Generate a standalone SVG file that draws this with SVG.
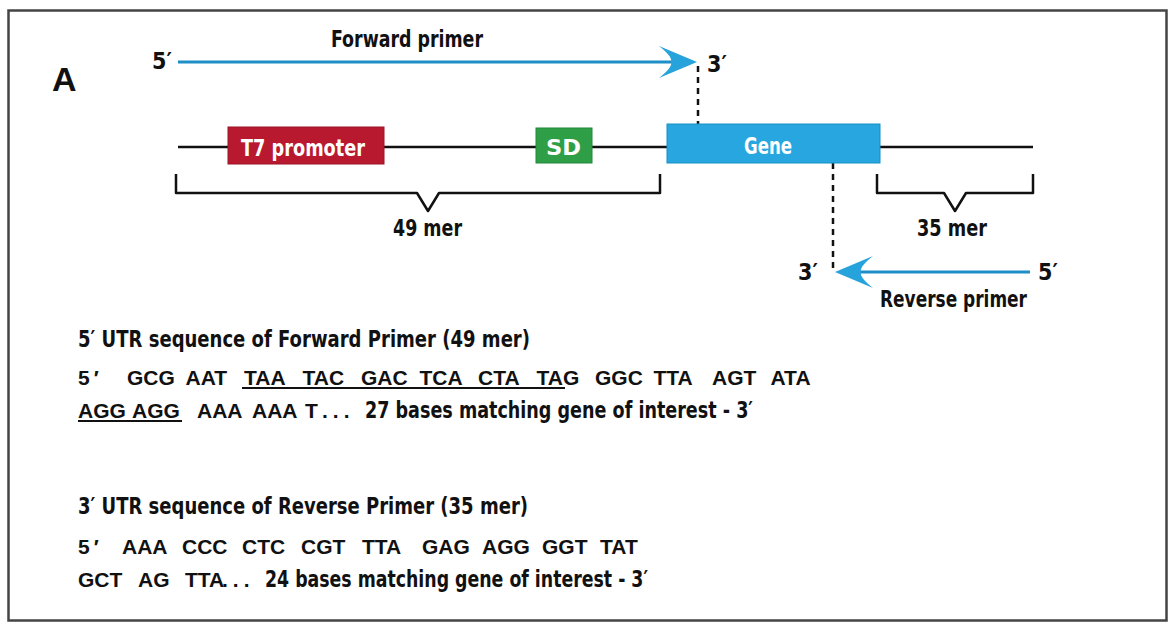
<svg xmlns="http://www.w3.org/2000/svg" width="1174" height="622" viewBox="0 0 1174 622">
  <style>
    .lbl { font-family: "Liberation Sans Narrow", "Arial Narrow", "DejaVu Sans Condensed", "Liberation Sans", sans-serif; font-weight: bold; fill: #111; }
    .box-lbl { fill: #ffffff; }
    .seq { font-family: "Liberation Sans", Arial, sans-serif; font-weight: bold; font-size: 21px; fill: #111; }
    .backbone { stroke: #111; stroke-width: 2.5; fill: none; }
    .bracket { stroke: #111; stroke-width: 2.5; fill: none; stroke-linejoin: round; }
    .dash { stroke: #111; stroke-width: 2.5; stroke-dasharray: 6 5; fill: none; }
    .primer { stroke: #1d8ec6; stroke-width: 3; fill: none; }
    .uline { stroke: #111; stroke-width: 2; }
  </style>
  <defs>
    <!-- barbed arrowhead, tip at origin, pointing right -->
    <path id="barb" d="M0,0 L-38,-16 Q-24,-5 -26,0 Q-24,5 -38,16 Z" fill="#27a3dc"/>
  </defs>

  <rect x="8.5" y="10.5" width="1158" height="610" fill="#ffffff" stroke="#444" stroke-width="2.5"/>

  <text x="52" y="91" font-size="34" font-weight="bold" font-family="Liberation Sans, sans-serif" fill="#111">A</text>

  <!-- DNA backbone -->
  <line class="backbone" x1="178" y1="147" x2="1033" y2="147"/>

  <g id="connectors">
    <line class="primer" x1="178" y1="62" x2="672" y2="62"/>
    <use href="#barb" transform="translate(697,62)"/>
    <line class="primer" x1="860" y1="272" x2="1030" y2="272"/>
    <use href="#barb" transform="translate(835,272) scale(-1,1)"/>
    <line class="dash" x1="698" y1="66" x2="698" y2="124"/>
    <line class="dash" x1="833" y1="163" x2="833" y2="270"/>
    <path class="bracket" d="M176,174 V193 H417 L428,211 L439,193 H660 V174"/>
    <path class="bracket" d="M877,174 V193 H944 L955,211 L966,193 H1033 V174"/>
  </g>

  <g id="forward-primer">
    <text class="lbl" x="331" y="47" font-size="23" textLength="152" lengthAdjust="spacingAndGlyphs">Forward primer</text>
    <text class="lbl" x="152" y="69" font-size="23">5′</text>
    <text class="lbl" x="707" y="72" font-size="23">3′</text>
  </g>

  <g id="t7-promoter">
    <rect x="228" y="127" width="156" height="37" fill="#b9192e" stroke="#9c1426" stroke-width="1"/>
    <text class="lbl box-lbl" x="241" y="156" font-size="23" textLength="124" lengthAdjust="spacingAndGlyphs">T7 promoter</text>
  </g>

  <g id="sd">
    <rect x="536" y="128" width="56" height="35" fill="#2e9f47" stroke="#23883a" stroke-width="1"/>
    <text class="lbl box-lbl" x="546" y="155" font-size="22" textLength="35" lengthAdjust="spacingAndGlyphs">SD</text>
  </g>

  <g id="gene">
    <rect x="667" y="124" width="213" height="39" fill="#27a6df" stroke="#1b8fc6" stroke-width="1"/>
    <text class="lbl box-lbl" x="744" y="154" font-size="23" textLength="48" lengthAdjust="spacingAndGlyphs">Gene</text>
  </g>

  <g id="len-49">
    <text class="lbl" x="393" y="236" font-size="23" textLength="69" lengthAdjust="spacingAndGlyphs">49 mer</text>
  </g>
  <g id="len-35">
    <text class="lbl" x="917" y="236" font-size="23" textLength="70" lengthAdjust="spacingAndGlyphs">35 mer</text>
  </g>

  <g id="reverse-primer">
    <text class="lbl" x="798" y="280" font-size="23">3′</text>
    <text class="lbl" x="1038" y="280" font-size="23">5′</text>
    <text class="lbl" x="880" y="307" font-size="23" textLength="147" lengthAdjust="spacingAndGlyphs">Reverse primer</text>
  </g>

  <g id="forward-sequence">
    <text class="lbl" x="78" y="347" font-size="23" textLength="452" lengthAdjust="spacingAndGlyphs">5′ UTR sequence of Forward Primer (49 mer)</text>
    <text class="seq" y="385"><tspan x="78" letter-spacing="4">5′</tspan><tspan x="127">GCG</tspan><tspan x="185.5">AAT</tspan><tspan x="244">TAA</tspan><tspan x="302.5">TAC</tspan><tspan x="361">GAC</tspan><tspan x="419.5">TCA</tspan><tspan x="478">CTA</tspan><tspan x="536.5">TAG</tspan><tspan x="595">GGC</tspan><tspan x="653.5">TTA</tspan><tspan x="712">AGT</tspan><tspan x="770.5">ATA</tspan></text>
    <line class="uline" x1="242" y1="388" x2="565" y2="388"/>
    <text class="seq" y="418"><tspan x="78">AGG</tspan><tspan x="132">AGG</tspan><tspan x="197">AAA</tspan><tspan x="252">AAA</tspan><tspan x="305">T</tspan><tspan x="322" letter-spacing="5">...</tspan></text>
    <line class="uline" x1="78" y1="421" x2="182" y2="421"/>
    <text class="lbl" x="365" y="418" font-size="23" textLength="388" lengthAdjust="spacingAndGlyphs">27 bases matching gene of interest - 3′</text>
  </g>

  <g id="reverse-sequence">
    <text class="lbl" x="78" y="514" font-size="23" textLength="450" lengthAdjust="spacingAndGlyphs">3′ UTR sequence of Reverse Primer (35 mer)</text>
    <text class="seq" y="554"><tspan x="78" letter-spacing="4">5′</tspan><tspan x="122">AAA</tspan><tspan x="182">CCC</tspan><tspan x="242">CTC</tspan><tspan x="301">CGT</tspan><tspan x="362">TTA</tspan><tspan x="422">GAG</tspan><tspan x="482">AGG</tspan><tspan x="542">GGT</tspan><tspan x="600">TAT</tspan></text>
    <text class="seq" y="587"><tspan x="78">GCT</tspan><tspan x="138">AG</tspan><tspan x="185">TTA</tspan><tspan x="222" letter-spacing="5">...</tspan></text>
    <text class="lbl" x="265" y="587" font-size="23" textLength="383" lengthAdjust="spacingAndGlyphs">24 bases matching gene of interest - 3′</text>
  </g>
</svg>
